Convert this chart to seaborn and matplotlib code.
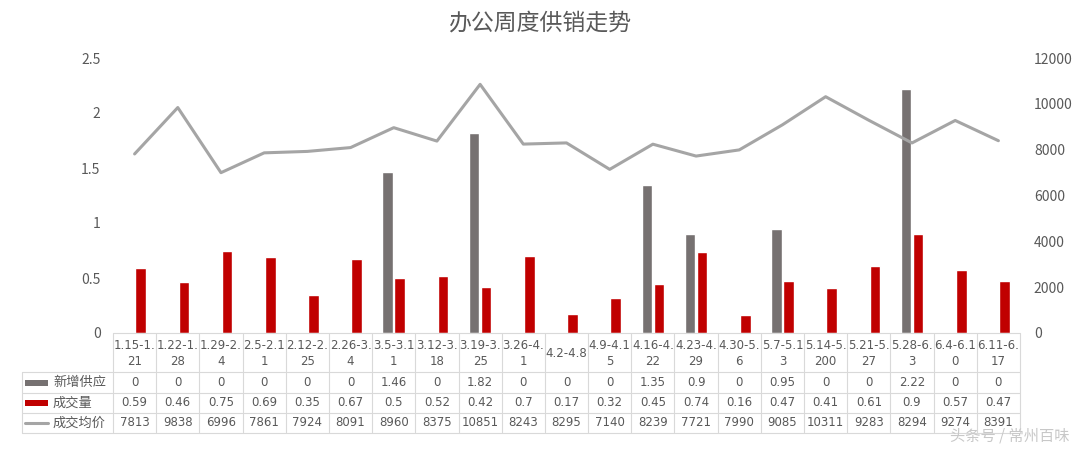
import textwrap

import matplotlib.pyplot as plt
import pandas as pd
import seaborn as sns
from matplotlib.patches import Rectangle

# data
weeks = ["1.15-1.21", "1.22-1.28", "1.29-2.4", "2.5-2.11", "2.12-2.25", "2.26-3.4",
         "3.5-3.11", "3.12-3.18", "3.19-3.25", "3.26-4.1", "4.2-4.8", "4.9-4.15",
         "4.16-4.22", "4.23-4.29", "4.30-5.6", "5.7-5.13", "5.14-5.200", "5.21-5.27",
         "5.28-6.3", "6.4-6.10", "6.11-6.17"]
supply = [0, 0, 0, 0, 0, 0, 1.46, 0, 1.82, 0, 0, 0, 1.35, 0.9, 0, 0.95, 0, 0, 2.22, 0, 0]
deals = [0.59, 0.46, 0.75, 0.69, 0.35, 0.67, 0.5, 0.52, 0.42, 0.7, 0.17, 0.32,
         0.45, 0.74, 0.16, 0.47, 0.41, 0.61, 0.9, 0.57, 0.47]
price = [7813, 9838, 6996, 7861, 7924, 8091, 8960, 8375, 10851, 8243, 8295, 7140,
         8239, 7721, 7990, 9085, 10311, 9283, 8294, 9274, 8391]
left_ticks = [0, 0.5, 1, 1.5, 2, 2.5]
left_labels = ["0", "0.5", "1", "1.5", "2", "2.5"]
right_ticks = [0, 2000, 4000, 6000, 8000, 10000, 12000]

series_names = ["新增供应", "成交量", "成交均价"]
grey = "#767171"
red = "#C00000"
line_col = "#A5A5A5"
text_col = "#595959"
grid_col = "#D9D9D9"

sns.set_theme(style="white")
plt.rcParams['font.family'] = ['Noto Sans CJK SC', 'DejaVu Sans']

W, H = 1080, 449
fig = plt.figure(figsize=(W / 100, H / 100), dpi=100)

x0, x1 = 113, 1020
y_base, y_top = 333, 58
ax = fig.add_axes([x0 / W, 1 - y_base / H, (x1 - x0) / W, (y_base - y_top) / H])

df = pd.DataFrame({
    "week": weeks * 2,
    "series": [series_names[0]] * len(weeks) + [series_names[1]] * len(weeks),
    "value": supply + deals,
})
sns.barplot(data=df, x="week", y="value", hue="series", hue_order=series_names[:2],
            palette=[grey, red], width=0.56, gap=0.12, saturation=1, legend=False, ax=ax)
ax.set_ylim(0, 2.5)
ax.set_yticks(left_ticks)
ax.set_yticklabels(left_labels)
ax.set_xticks([])
ax.set_xlabel("")
ax.set_ylabel("")
for s in ax.spines.values():
    s.set_visible(False)
ax.tick_params(axis="y", length=0, pad=9, labelsize=10, labelcolor=text_col)

ax2 = ax.twinx()
sns.lineplot(x=list(range(len(weeks))), y=price, ax=ax2, color=line_col, linewidth=2.2)
ax2.set_ylim(0, 12000)
ax2.set_yticks(right_ticks)
ax2.set_yticklabels([str(t) for t in right_ticks])
ax2.set_ylabel("")
for s in ax2.spines.values():
    s.set_visible(False)
ax2.tick_params(axis="y", length=0, pad=10, labelsize=10, labelcolor=text_col)
ax.set_xlim(-0.5, len(weeks) - 0.5)
ax2.set_xlim(-0.5, len(weeks) - 0.5)

fig.text(0.5, 1 - 23 / H, "办公周度供销走势", ha="center", va="center",
         fontsize=16.5, fontweight="medium", color=text_col)

# data table under the plot, in pixel coordinates
tab = fig.add_axes([0, 0, 1, 1])
tab.set_xlim(0, W)
tab.set_ylim(H, 0)
tab.axis("off")

col_w = (x1 - x0) / len(weeks)
rows_y = [372, 393, 413, 433]
lab_x = 22
lw = 0.8

tab.plot([x0, x1], [y_base, y_base], color=grid_col, lw=lw)
for y in rows_y:
    tab.plot([lab_x, x1], [y, y], color=grid_col, lw=lw)
tab.plot([lab_x, lab_x], [rows_y[0], rows_y[-1]], color=grid_col, lw=lw)
for i in range(len(weeks) + 1):
    xx = x0 + i * col_w
    tab.plot([xx, xx], [y_base, rows_y[-1]], color=grid_col, lw=lw)

for i, wk in enumerate(weeks):
    cx = x0 + (i + 0.5) * col_w
    wrapped = "\n".join(textwrap.wrap(wk, 7, break_on_hyphens=False))
    tab.text(cx, (y_base + rows_y[0]) / 2 + 1, wrapped, ha="center", va="center",
             fontsize=8.5, color=text_col, linespacing=1.25, family="DejaVu Sans")
    row_vals = [supply[i], deals[i], price[i]]
    for r, v in enumerate(row_vals):
        yc = (rows_y[r] + rows_y[r + 1]) / 2
        tab.text(cx, yc, f"{v:g}", ha="center", va="center", fontsize=8.5,
                 color=text_col, family="DejaVu Sans")

# row headers with legend keys
for r, name in enumerate(series_names):
    yc = (rows_y[r] + rows_y[r + 1]) / 2
    if r < 2:
        tab.add_patch(Rectangle((25, yc - 3), 23, 6, color=[grey, red][r], lw=0))
    else:
        tab.plot([25, 48], [yc, yc], color=line_col, lw=2.2)
    tab.text(53, yc, name, ha="left", va="center", fontsize=9.5, color=text_col)

tab.text(1070, 436, "头条号 / 常州百味", ha="right", va="center", fontsize=11,
         color="#C8C8C8")

fig.savefig("out.png", dpi=100)
